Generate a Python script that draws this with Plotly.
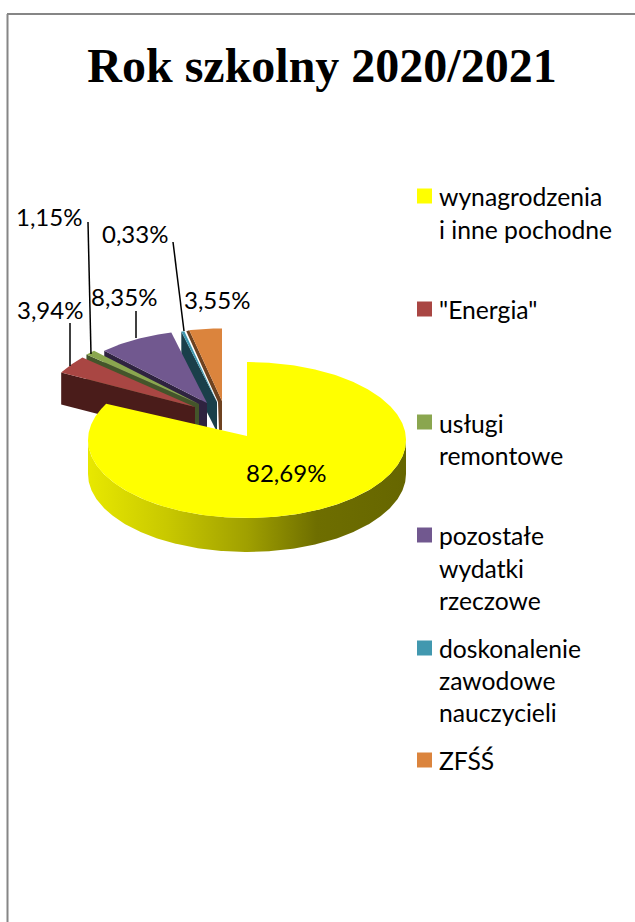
import math
import plotly.graph_objects as go

TITLE = "Rok szkolny 2020/2021"
categories = ["wynagrodzenia\ni inne pochodne", '"Energia"', "usługi\nremontowe",
              "pozostałe\nwydatki\nrzeczowe", "doskonalenie\nzawodowe\nnauczycieli", "ZFŚŚ"]
values = [82.69, 3.94, 1.15, 8.35, 0.33, 3.55]

top_colors = ["#ffff00", "#a94643", "#8aa64f", "#71588f", "#4198af", "#db843d"]
wall_colors = ["#666600", "#4a1c1a", "#44552a", "#2f2340", "#1a3f4a", "#6e4220"]

# page layout, in pixels
CX, CY, RX, RY = 247, 440, 159, 78
DEPTH = 34
apex = [(247, 436), (195, 407), (199, 404), (207, 403), (217, 402), (222, 401)]
scale = [1, 0.95, 0.95, 0.93, 0.93, 0.93]
wall_depth = [34, 32, 32, 32, 30, 32]
label_xy = [(286, 472), (50, 309), (49, 216), (124, 296), (135, 233), (217, 299)]
leaders = [None, ((70, 323), (70, 366)), ((88, 222), (91, 354)), ((136, 311), (136, 338)),
           ((173, 242), (184, 331)), None]
legend_swatch_y = [196, 309, 422, 535, 648, 760]
legend_line_y = [[196, 229], [309], [423, 455], [535, 568, 600], [648, 680, 712], [760]]
FONT = "Lato"
LABEL_SIZE = 24
LEGEND_SIZE = 24.7

total = sum(values)
starts, a = [], 0.0
for v in values:
    starts.append(a)
    a += v / total * 360
ends = [s + v / total * 360 for s, v in zip(starts, values)]


def rim(i, deg):
    t = math.radians(deg)
    if i == 0:
        return CX + RX * math.sin(t), CY - RY * math.cos(t)
    return apex[i][0] + scale[i] * RX * math.sin(t), apex[i][1] - scale[i] * RY * math.cos(t)


def arc(i, a0, a1):
    n = max(3, int(abs(a1 - a0) * 1.5))
    return [rim(i, a0 + (a1 - a0) * k / n) for k in range(n + 1)]


def poly(pts, color, **kw):
    xs = [p[0] for p in pts] + [pts[0][0]]
    ys = [p[1] for p in pts] + [pts[0][1]]
    return go.Scatter(x=xs, y=ys, mode="lines", fill="toself", fillcolor=color,
                      line=dict(width=0, color=color), hoverinfo="skip", showlegend=False, **kw)


fig = go.Figure()

# exploded slices, far to near
for i in [5, 4, 3, 2, 1]:
    r0 = rim(i, starts[i])
    ax, ay = apex[i]
    d = wall_depth[i]
    if i == 5:
        wall = [(r0[0] - 3, r0[1] + 1), r0, (ax, ay), (ax, ay + 29), (ax - 3, ay + 29), (ax - 4, ay + 1)]
    else:
        wall = [r0, (ax, ay), (ax, ay + d), (r0[0], r0[1] + d)]
    fig.add_trace(poly(wall, wall_colors[i]))
    fig.add_trace(poly([(ax, ay)] + arc(i, starts[i], ends[i]), top_colors[i]))

# main slice: side wall with gradient, then top
front = arc(0, 90, 270)
side = front + [(x, y + DEPTH) for x, y in reversed(front)]
fig.add_trace(go.Scatter(
    x=[p[0] for p in side] + [side[0][0]], y=[p[1] for p in side] + [side[0][1]],
    mode="lines", fill="toself", line=dict(width=0), hoverinfo="skip", showlegend=False,
    fillgradient=dict(type="horizontal", start=CX - RX, stop=CX + RX,
                      colorscale=[[0, "#e8e800"], [0.25, "#c8c800"], [0.5, "#a0a000"],
                                  [0.72, "#6e6e00"], [1, "#666600"]])))
fig.add_trace(poly([apex[0]] + arc(0, starts[0], ends[0]), top_colors[0]))

# leader lines
for seg in leaders:
    if seg:
        fig.add_trace(go.Scatter(x=[seg[0][0], seg[1][0]], y=[seg[0][1], seg[1][1]], mode="lines",
                                 line=dict(color="#000000", width=1.5), hoverinfo="skip", showlegend=False))

# legend swatches
fig.add_trace(go.Scatter(x=[424.5] * 6, y=legend_swatch_y, mode="markers",
                         marker=dict(symbol="square", size=15, color=top_colors, line=dict(width=0)),
                         hoverinfo="skip", showlegend=False))

ann = []
for (x, y), v in zip(label_xy, values):
    ann.append(dict(x=x, y=y, xref="x", yref="y", showarrow=False, xanchor="center", yanchor="middle",
                    text=f"{v:.2f}".replace(".", ",") + "%",
                    font=dict(family=FONT, size=LABEL_SIZE, color="#000000")))
for cat, ys in zip(categories, legend_line_y):
    for line, y in zip(cat.split("\n"), ys):
        ann.append(dict(x=439, y=y, xref="x", yref="y", showarrow=False, xanchor="left", yanchor="middle",
                        xshift=-2, text=line, font=dict(family=FONT, size=LEGEND_SIZE, color="#000000")))

fig.update_layout(
    width=635, height=922, margin=dict(l=0, r=0, t=0, b=0),
    paper_bgcolor="#ffffff", plot_bgcolor="#ffffff", showlegend=False,
    title=dict(text=f"<b>{TITLE}</b>", x=322 / 635, xanchor="center", y=1 - 65 / 922, yanchor="middle",
               font=dict(family="Liberation Serif", size=48, color="#000000")),
    xaxis=dict(range=[0, 635], visible=False, fixedrange=True),
    yaxis=dict(range=[922, 0], visible=False, fixedrange=True),
    annotations=ann,
    shapes=[dict(type="line", xref="x", yref="y", x0=7, x1=635, y0=14, y1=14, line=dict(color="#868686", width=2)),
            dict(type="line", xref="x", yref="y", x0=7.5, x1=7.5, y0=14, y1=922, line=dict(color="#868686", width=2))],
)
fig.write_html("out.html", config={"displayModeBar": False},
               post_script="document.body.style.margin='0';document.body.style.overflow='hidden';")
